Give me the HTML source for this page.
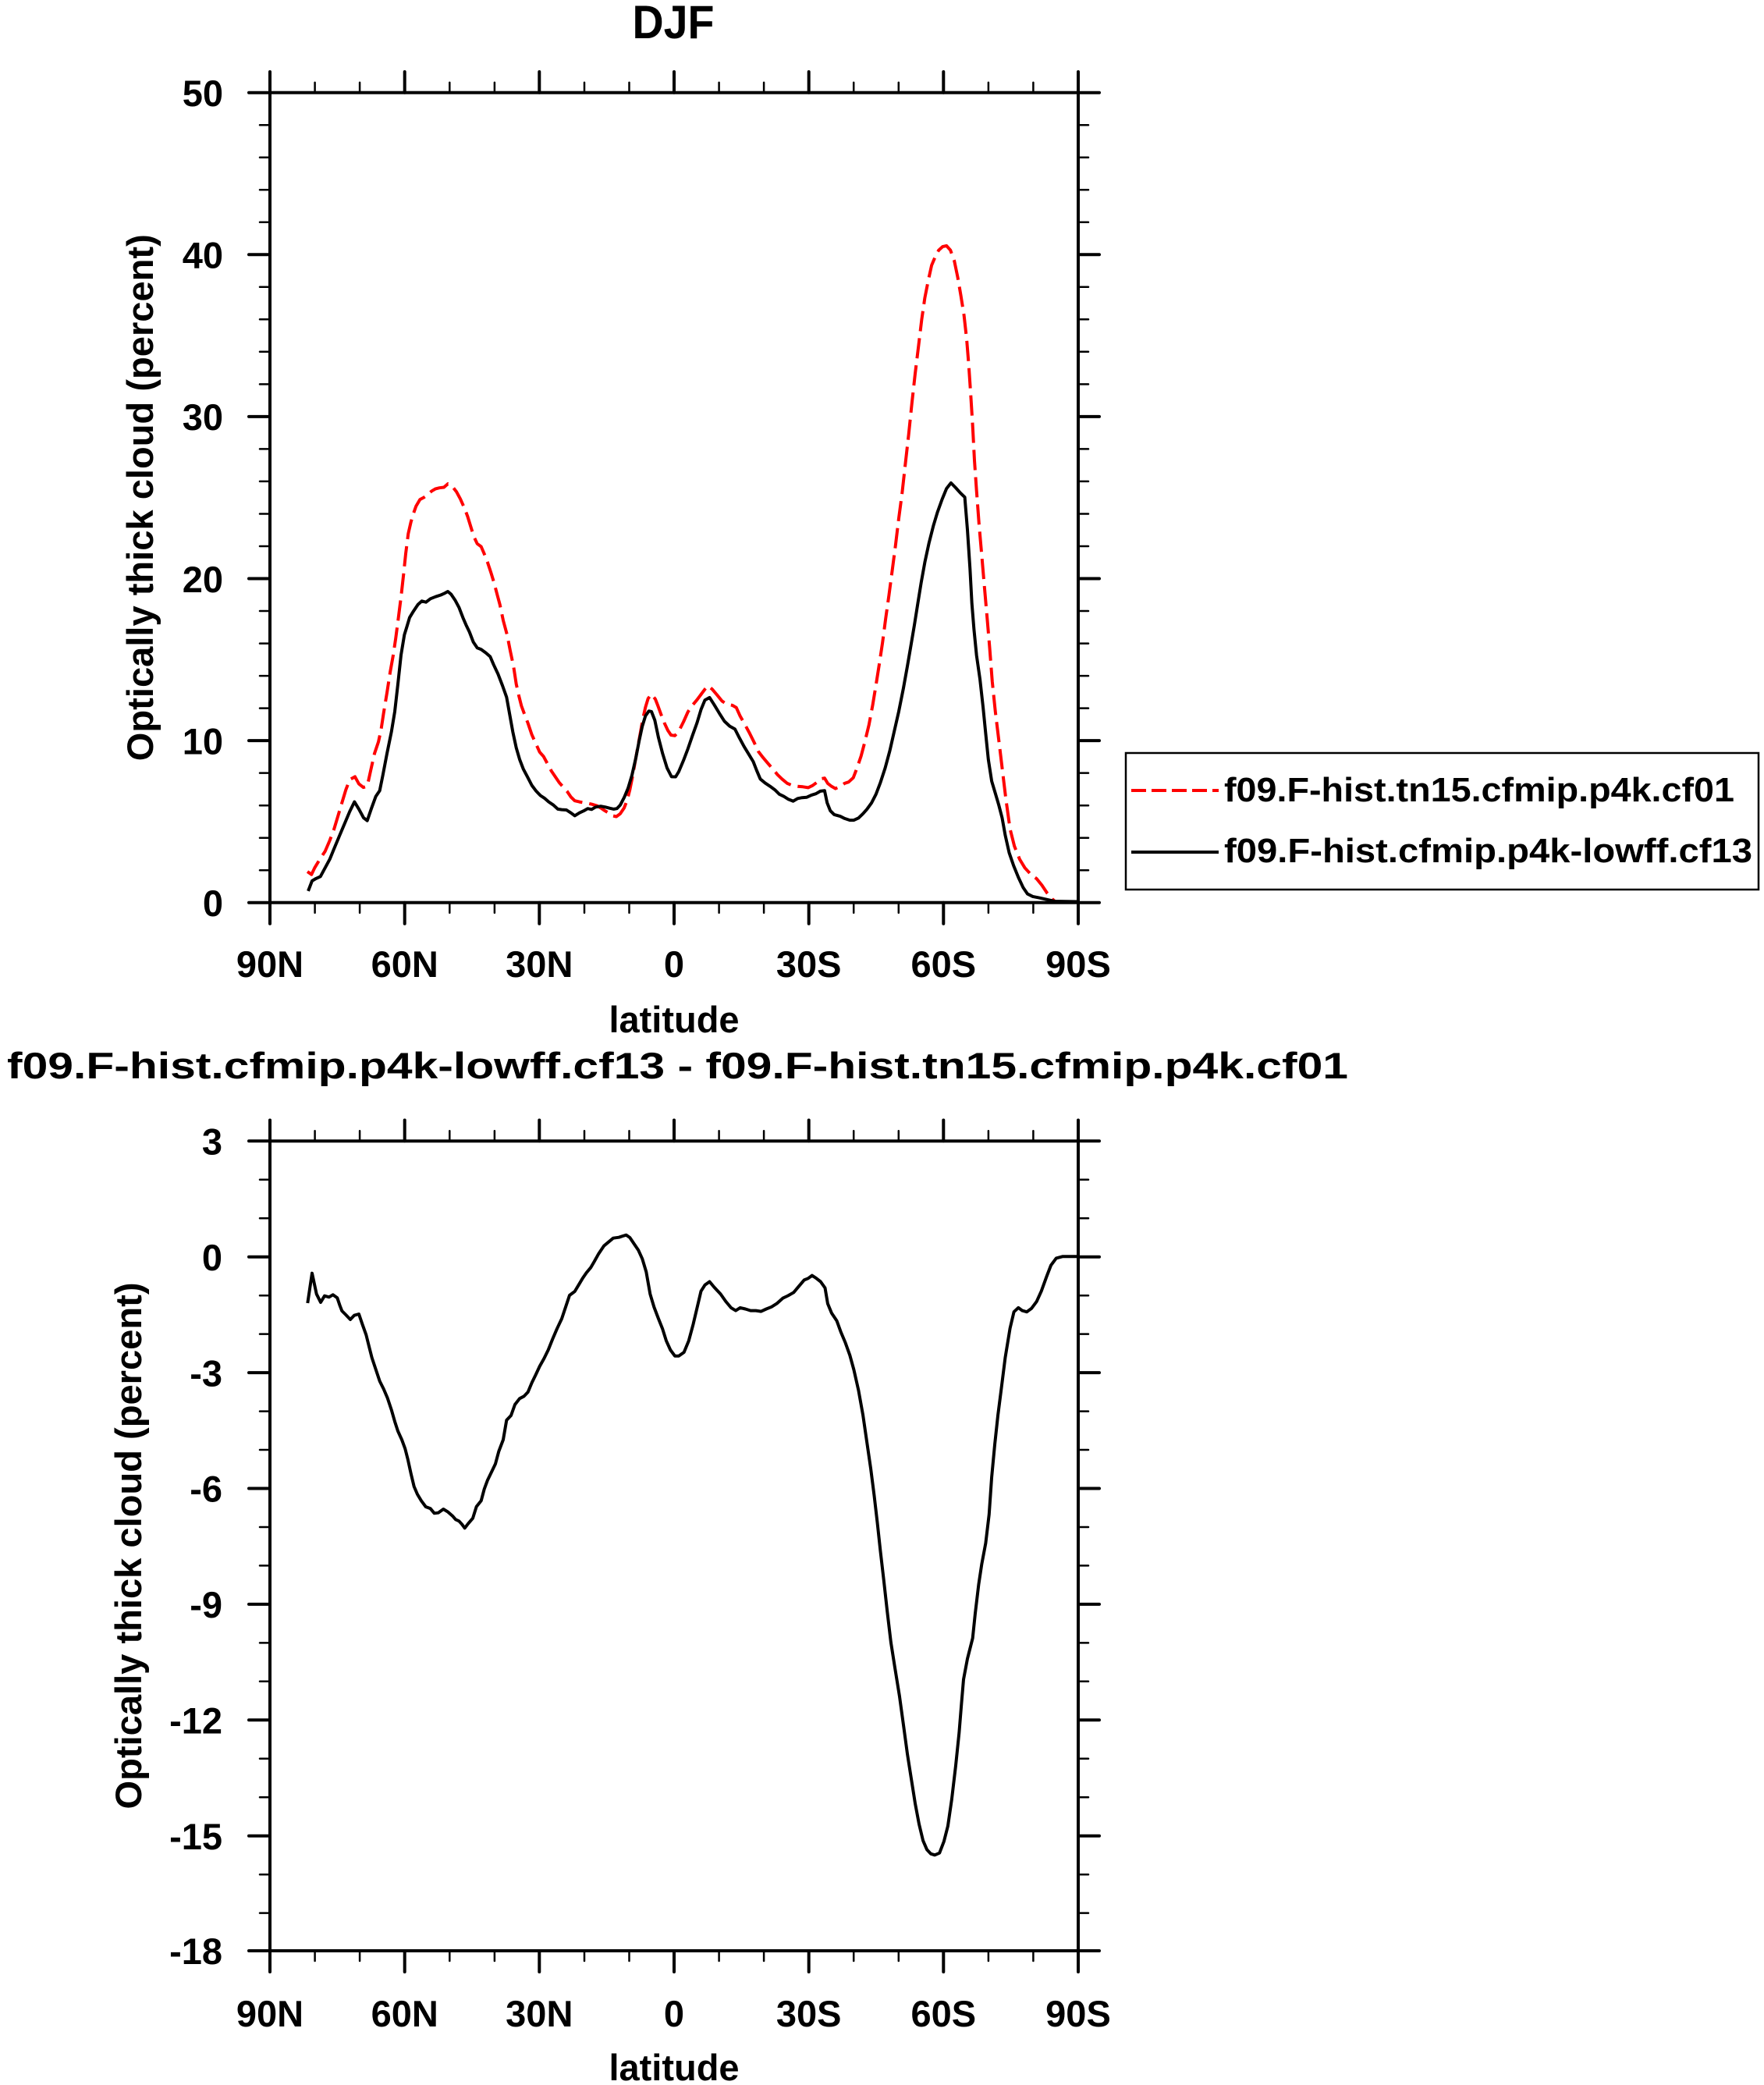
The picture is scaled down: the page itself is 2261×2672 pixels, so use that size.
<!DOCTYPE html>
<html>
<head>
<meta charset="utf-8">
<style>
html,body{margin:0;padding:0;background:#fff;}
svg{display:block;}
text{font-family:"Liberation Sans",Arial,Helvetica,sans-serif;font-weight:bold;fill:#000;}
</style>
</head>
<body>
<svg xmlns="http://www.w3.org/2000/svg" width="2261" height="2672" viewBox="0 0 2261 2672">
<rect x="0" y="0" width="2261" height="2672" fill="#fff"/>

<!-- ===== TOP PLOT ===== -->
<text x="863" y="49" font-size="60" text-anchor="middle" textLength="105" lengthAdjust="spacingAndGlyphs">DJF</text>

<!-- minor ticks top plot -->
<g stroke="#000" stroke-width="2.5" stroke-linecap="round" fill="none">
<path d="M346,160.2H333M346,201.7H333M346,243.2H333M346,284.8H333
M346,367.8H333M346,409.3H333M346,450.8H333M346,492.4H333
M346,575.4H333M346,616.9H333M346,658.5H333M346,700H333
M346,783H333M346,824.6H333M346,866.1H333M346,907.6H333
M346,990.6H333M346,1032.2H333M346,1073.7H333M346,1115.2H333"/>
<path d="M1382,160.2H1395M1382,201.7H1395M1382,243.2H1395M1382,284.8H1395
M1382,367.8H1395M1382,409.3H1395M1382,450.8H1395M1382,492.4H1395
M1382,575.4H1395M1382,616.9H1395M1382,658.5H1395M1382,700H1395
M1382,783H1395M1382,824.6H1395M1382,866.1H1395M1382,907.6H1395
M1382,990.6H1395M1382,1032.2H1395M1382,1073.7H1395M1382,1115.2H1395"/>
<path d="M403.6,118.7V105.7M461.1,118.7V105.7M576.3,118.7V105.7M633.9,118.7V105.7M749,118.7V105.7M806.5,118.7V105.7M921.6,118.7V105.7M979.1,118.7V105.7M1094.2,118.7V105.7M1151.8,118.7V105.7M1266.9,118.7V105.7M1324.4,118.7V105.7"/>
<path d="M403.6,1156.7V1169.7M461.1,1156.7V1169.7M576.3,1156.7V1169.7M633.9,1156.7V1169.7M749,1156.7V1169.7M806.5,1156.7V1169.7M921.6,1156.7V1169.7M979.1,1156.7V1169.7M1094.2,1156.7V1169.7M1151.8,1156.7V1169.7M1266.9,1156.7V1169.7M1324.4,1156.7V1169.7"/>
</g>
<!-- major ticks top plot -->
<g stroke="#000" stroke-width="4" stroke-linecap="round" fill="none">
<path d="M346,118.7H319M346,326.3H319M346,533.9H319M346,741.5H319M346,949.1H319M346,1156.7H319"/>
<path d="M1382,118.7H1409M1382,326.3H1409M1382,533.9H1409M1382,741.5H1409M1382,949.1H1409M1382,1156.7H1409"/>
<path d="M346,118.7V92M518.7,118.7V92M691.3,118.7V92M864,118.7V92M1036.7,118.7V92M1209.3,118.7V92M1382,118.7V92"/>
<path d="M346,1156.7V1183.7M518.7,1156.7V1183.7M691.3,1156.7V1183.7M864,1156.7V1183.7M1036.7,1156.7V1183.7M1209.3,1156.7V1183.7M1382,1156.7V1183.7"/>
<rect x="346" y="118.7" width="1036" height="1038" />
</g>

<!-- y tick labels top -->
<g font-size="47" text-anchor="end">
<text x="286" y="136">50</text>
<text x="286" y="343.6">40</text>
<text x="286" y="551.2">30</text>
<text x="286" y="758.8">20</text>
<text x="286" y="966.4">10</text>
<text x="286" y="1174">0</text>
</g>
<!-- x tick labels top -->
<g font-size="47" text-anchor="middle">
<text x="346" y="1252">90N</text>
<text x="518.7" y="1252">60N</text>
<text x="691.3" y="1252">30N</text>
<text x="864" y="1252">0</text>
<text x="1036.7" y="1252">30S</text>
<text x="1209.3" y="1252">60S</text>
<text x="1382" y="1252">90S</text>
</g>
<text x="864" y="1323" font-size="47" text-anchor="middle">latitude</text>
<text transform="translate(196,637.7) rotate(-90)" font-size="47" text-anchor="middle" textLength="675" lengthAdjust="spacingAndGlyphs">Optically thick cloud (percent)</text>

<!-- red dashed curve -->
<polyline fill="none" stroke="#ff0000" stroke-width="4" stroke-dasharray="26 9" stroke-linejoin="round" points="
394,1117 399.3,1120.7 403.3,1112.2 410,1101.1 416.7,1091 422.7,1077 428.3,1062.1 433.3,1045.4 438.3,1028.7 443.3,1012.1 448.3,999.1 455,995.4 460,1004.6 465.7,1009.1 470.7,1007.6 475,988 480,965.7 485,950.9 488.3,936 491.7,913.8 496,887.8 500,861.9 504,839.6 507.3,817.4 510.7,791.4 514,765.4 517.3,735.8 520,709.8 523.3,683.8 526.7,669 530,657.9 533.3,648.6 538.3,640.1 543.3,637.5 548.3,633.8 553.3,629.3 558.3,626.4 563.3,625.2 569,624.5 574,620.1 580,623.8 585,630.1 590,639.3 595,650.5 599.3,661.6 603.3,674.6 607.3,687.5 611.7,696.8 616.7,700.5 620.7,709.8 625,720.9 629.3,733.9 633.3,746.9 636.7,759.9 640.7,774.7 645,795.1 650,813.6 654,834 658.3,854.4 661.7,876.7 665,891.5 668.3,904.5 671.7,913.8 676.7,926.8 681.7,941.6 686.7,952.7 691.7,963.8 696.7,969.4 701.7,978.7 706.7,988 711.7,995.4 716.7,1002.8 721.7,1008.4 726.7,1013.9 731.7,1021.3 736.7,1026.2 742.7,1027.6 748.3,1028.7 753.3,1029.5 758.3,1030.6 765,1032.5 770,1035.4 775,1038.8 780,1041.7 785,1045.4 790,1046.5 795,1042.8 800,1035.4 804,1025 807.3,1012.1 810.7,995.4 814,976.8 817.3,958.3 820.7,939.7 824,921.2 827.3,906.4 830.7,895.2 835,889.7 840,896 843.3,904.5 847.3,915.6 851.7,926.8 856,936 860,942 865,942.8 870,937.2 876.1,925 881.8,912.2 887.5,903.9 893.5,896.7 898.5,890 903.5,883.3 907.5,878.9 912.9,883.3 918.6,890 925.3,898.3 932,902.8 938.7,903.9 943.7,906.7 948.7,917.8 954.4,927.8 960.4,938.9 966.5,951.1 972.2,963.3 977.8,970.6 983.9,977.8 990.6,985.6 996.6,992.8 1002.3,998.3 1009,1003.9 1015.7,1006.7 1022.4,1007.8 1029.1,1008.3 1035.8,1009.4 1041.5,1006.7 1046.8,1002.8 1051.5,998.3 1056.9,997.2 1060.9,1003.9 1065.9,1007.8 1070.9,1010.6 1076.9,1007.8 1082.6,1003.9 1087.7,1002.2 1093.7,996.7 1098.4,984.4 1103.7,968.9 1108.4,951.1 1113.8,928.9 1118.5,903.9 1122.8,877.8 1127.2,850 1131.2,823.3 1135.2,792.8 1139.5,762.2 1143.9,728.9 1147.9,698.3 1151.9,665 1156.3,631.7 1160.3,595.6 1164.7,556.7 1168.7,517.8 1173,478.9 1177.4,442.8 1181.4,409.4 1185.4,381.7 1189.8,359.4 1194.1,340 1198.8,328.9 1203.2,320.6 1208.2,316.1 1213.2,315 1218.2,320.6 1223.2,334.4 1227.6,355.6 1231.6,378.9 1235.6,403.9 1239,434.4 1241.7,467.8 1244.3,506.7 1246.7,545.6 1249,590 1251.7,628.9 1255,673.3 1258.4,712.2 1261.7,751.1 1265.1,790 1268.4,828.9 1271.8,873.3 1275.8,912.2 1281.2,956.7 1285.2,990 1289.2,1023.3 1294.6,1062.2 1300.2,1084.4 1306.9,1101.1 1313.6,1112.2 1321.3,1120.6 1328.7,1126.1 1335.4,1134.4 1342.1,1144.4 1348.8,1152.2 1352.1,1155"/>

<!-- black solid curve -->
<polyline fill="none" stroke="#000" stroke-width="4" stroke-linejoin="round" points="
395,1141.9 400,1128.9 405,1125.9 410.7,1123.3 416.7,1112.2 422.7,1101.1 428.3,1087.4 435,1071.4 441.7,1055.5 448.3,1039.9 454.3,1027.6 460,1036.9 466,1048 470.7,1051.7 476,1036.2 481.7,1020.6 486.7,1013.2 490.7,993.5 496,965.7 501.7,937.9 506,911.9 510,876.7 514,839.6 518.3,813.6 521.7,802.5 525,791.4 530,783.2 535.7,774.7 540.7,770.3 546,771.7 551.7,767.3 558.3,764.7 565,762.5 569.3,760.6 574,758 578.3,761.7 583.3,769.1 588.3,778.4 593.3,791.4 597.3,800.7 601.7,809.9 606.7,822.9 611.7,830.3 616.7,832.2 622.7,836.6 628.3,841.5 632.7,851.8 638.3,863.7 644,878.5 649.3,893.4 653.3,915.6 657.3,937.9 661.7,958.3 666,973.1 670.7,985.4 676,995.4 681.7,1006.5 687.3,1013.9 692.7,1019.5 698.3,1023.2 703.3,1027.6 709.3,1031.7 715,1036.9 720,1037.6 726,1038 731.7,1041.7 736.7,1045.4 742.7,1041.7 748.3,1039.1 753.3,1036.2 758.3,1037.3 763.3,1034.3 770,1033.2 776,1034.3 781.7,1035.8 786.7,1036.9 790.7,1036.2 795,1031.7 800,1022.1 805,1010.2 810,993.5 815,971.3 819.3,949 823.3,930.5 827.3,917.5 831.7,911.2 835,911.9 839.3,923 844,945.3 849.3,965.7 855,984.2 860.7,995.4 866,995.5 870,988.9 876.1,974.4 881.8,959.4 887.5,942.8 893.5,926.1 898.5,909.4 903.5,897.2 909.5,893.9 915.2,902.8 921.9,913.9 928.6,924.4 935.3,930.6 942,934.4 947.7,945.6 953.7,956.7 959.8,966.7 965.5,976.1 969.8,987.2 974.5,998.3 980.5,1003.3 987.2,1007.8 993.2,1012.2 998.9,1017.8 1004.6,1020.6 1010.7,1024.4 1016.7,1026.7 1022.4,1023.3 1028.1,1022.2 1034.1,1021.7 1040.1,1018.9 1045.8,1017.2 1051.5,1013.9 1056.9,1013.3 1060.2,1028.9 1064.2,1038.9 1069.2,1043.9 1076.9,1046.1 1082.6,1048.9 1089.3,1051.1 1094.4,1051.1 1100.4,1048.3 1106.1,1042.8 1111.1,1037.2 1117.1,1028.9 1122.8,1017.8 1128.5,1002.8 1134.5,984.4 1140.5,962.2 1146.2,937.2 1151.9,912.2 1158,881.7 1163,853.9 1167.3,828.9 1172,801.1 1176.4,773.3 1180.7,746.7 1185.4,720.6 1190.8,695.6 1196.5,673.3 1201.5,656.7 1207.5,640 1213.2,626.1 1218.9,618.9 1224.9,625 1230.9,631.7 1236.6,637.2 1240,678.9 1243.3,728.9 1245.7,773.3 1248.4,806.7 1251.7,840 1256.1,870.6 1260.1,906.7 1263.4,940 1266.8,973.3 1271.1,1001.1 1276.1,1017.8 1280.2,1031.7 1284.5,1048.3 1288.5,1070.6 1293.5,1092.8 1299.2,1109.4 1305.3,1124.4 1311.3,1137.2 1317,1145.6 1323.7,1148.9 1332,1150.6 1342.1,1152.8 1351.5,1155 1382,1155.5"/>

<!-- legend -->
<rect x="1443" y="965" width="811" height="175" fill="none" stroke="#000" stroke-width="2.5"/>
<line x1="1450" y1="1013" x2="1562" y2="1013" stroke="#ff0000" stroke-width="4" stroke-dasharray="19 7"/>
<line x1="1450" y1="1092" x2="1562" y2="1092" stroke="#000" stroke-width="4"/>
<text x="1569" y="1027" font-size="44" textLength="654" lengthAdjust="spacingAndGlyphs">f09.F-hist.tn15.cfmip.p4k.cf01</text>
<text x="1569" y="1105" font-size="44" textLength="677" lengthAdjust="spacingAndGlyphs">f09.F-hist.cfmip.p4k-lowff.cf13</text>

<!-- ===== BOTTOM PLOT ===== -->
<text x="9" y="1382" font-size="47" textLength="1719" lengthAdjust="spacingAndGlyphs">f09.F-hist.cfmip.p4k-lowff.cf13 - f09.F-hist.tn15.cfmip.p4k.cf01</text>

<g stroke="#000" stroke-width="2.5" stroke-linecap="round" fill="none">
<path d="M346,1511.8H333M346,1561.2H333M346,1660.2H333M346,1709.6H333M346,1808.6H333M346,1858H333M346,1957H333M346,2006.4H333M346,2105.4H333M346,2154.8H333M346,2253.8H333M346,2303.2H333M346,2402.2H333M346,2451.6H333"/>
<path d="M1382,1511.8H1395M1382,1561.2H1395M1382,1660.2H1395M1382,1709.6H1395M1382,1808.6H1395M1382,1858H1395M1382,1957H1395M1382,2006.4H1395M1382,2105.4H1395M1382,2154.8H1395M1382,2253.8H1395M1382,2303.2H1395M1382,2402.2H1395M1382,2451.6H1395"/>
<path d="M403.6,1462.3V1449.3M461.1,1462.3V1449.3M576.3,1462.3V1449.3M633.9,1462.3V1449.3M749,1462.3V1449.3M806.5,1462.3V1449.3M921.6,1462.3V1449.3M979.1,1462.3V1449.3M1094.2,1462.3V1449.3M1151.8,1462.3V1449.3M1266.9,1462.3V1449.3M1324.4,1462.3V1449.3"/>
<path d="M403.6,2500V2513M461.1,2500V2513M576.3,2500V2513M633.9,2500V2513M749,2500V2513M806.5,2500V2513M921.6,2500V2513M979.1,2500V2513M1094.2,2500V2513M1151.8,2500V2513M1266.9,2500V2513M1324.4,2500V2513"/>
</g>
<g stroke="#000" stroke-width="4" stroke-linecap="round" fill="none">
<path d="M346,1462.3H319M346,1610.7H319M346,1759.1H319M346,1907.5H319M346,2055.9H319M346,2204.3H319M346,2352.7H319M346,2500H319"/>
<path d="M1382,1462.3H1409M1382,1610.7H1409M1382,1759.1H1409M1382,1907.5H1409M1382,2055.9H1409M1382,2204.3H1409M1382,2352.7H1409M1382,2500H1409"/>
<path d="M346,1462.3V1435.5M518.7,1462.3V1435.5M691.3,1462.3V1435.5M864,1462.3V1435.5M1036.7,1462.3V1435.5M1209.3,1462.3V1435.5M1382,1462.3V1435.5"/>
<path d="M346,2500V2527M518.7,2500V2527M691.3,2500V2527M864,2500V2527M1036.7,2500V2527M1209.3,2500V2527M1382,2500V2527"/>
<rect x="346" y="1462.3" width="1036" height="1037.7"/>
</g>

<g font-size="47" text-anchor="end">
<text x="285" y="1479.5">3</text>
<text x="285" y="1627.9">0</text>
<text x="285" y="1776.3">-3</text>
<text x="285" y="1924.7">-6</text>
<text x="285" y="2073.1">-9</text>
<text x="285" y="2221.5">-12</text>
<text x="285" y="2369.9">-15</text>
<text x="285" y="2517.2">-18</text>
</g>
<g font-size="47" text-anchor="middle">
<text x="346" y="2597">90N</text>
<text x="518.7" y="2597">60N</text>
<text x="691.3" y="2597">30N</text>
<text x="864" y="2597">0</text>
<text x="1036.7" y="2597">30S</text>
<text x="1209.3" y="2597">60S</text>
<text x="1382" y="2597">90S</text>
</g>
<text x="864" y="2666" font-size="47" text-anchor="middle">latitude</text>
<text transform="translate(181,1981) rotate(-90)" font-size="47" text-anchor="middle" textLength="675" lengthAdjust="spacingAndGlyphs">Optically thick cloud (percent)</text>

<polyline fill="none" stroke="#000" stroke-width="4" stroke-linejoin="round" points="
394.3,1670 400,1631.7 405.7,1658.3 411,1669 416,1660.7 421.7,1662.3 426.7,1659.3 432.3,1663.3 435.7,1673.3 438.3,1680 443.3,1685 449,1691 454,1685.7 460,1684 464.3,1696.7 469.3,1710.7 473.3,1726.7 476.7,1740 481.7,1755 486.7,1770 491.7,1780 496.7,1791.7 501.7,1806.7 506,1821.7 510,1834 515,1845 519.3,1856.7 522.7,1870 526.7,1888.3 530.7,1905 535,1915 540,1923.3 545.7,1931 551.7,1933.3 556.7,1939.3 561.7,1938.7 568.3,1934 574.3,1937.7 580,1942.7 584,1947.3 588.3,1949.3 592,1953.3 595.7,1958.3 600,1952.7 606,1945.7 610.7,1930.7 616.7,1923.3 620.7,1908.3 625,1896.7 630.7,1885 635,1876 639.3,1860 645,1845 649.3,1820 655,1814 660,1800 666,1792.3 671.7,1789.3 676.7,1784 681.7,1772 686.7,1761.7 691.7,1751 697.3,1741 702.7,1730 708.3,1716 714,1702.7 720,1690 725,1675 730,1660 736.7,1655 741.7,1646.7 746.7,1638.3 751.7,1631 757.3,1624.3 761.7,1616.7 767.3,1606.7 774,1596.7 780,1591.7 786,1586.7 793.3,1585.7 798.3,1584 802.7,1582.7 807.3,1586 812.7,1594 818.3,1602.3 823.3,1613.3 828.3,1630 833.3,1658.3 838.3,1675 844,1690 849.3,1703.3 854,1718.3 859.3,1730 865,1737.7 870,1737.7 876.7,1733 882.8,1718.2 888.5,1697.1 893.5,1675.9 898.5,1654.7 903.5,1646.8 909.5,1642.5 915.2,1649.4 923.6,1658.4 930.3,1667.9 937,1675.9 943,1679.6 948.7,1675.9 955.4,1677.5 962.1,1679.6 968.8,1679.6 975.5,1680.6 982.2,1677.5 988.9,1674.8 995.6,1670.6 1003.3,1663.7 1010,1660.5 1017.3,1656.3 1024,1648.3 1030.7,1640.4 1035.8,1638.3 1040.8,1634.6 1045.8,1637.8 1051.8,1642.5 1057.5,1650.5 1060.9,1670.6 1065.9,1682.8 1072.6,1692.8 1077.6,1706.6 1083.6,1720.9 1089.3,1736.8 1094.4,1755.3 1100.4,1781.8 1106.1,1813.5 1111.1,1847.9 1116.1,1882.3 1120.5,1916.7 1124.5,1951.2 1128.5,1988.2 1132.8,2025.3 1137.2,2065 1141.9,2104.7 1146.9,2136.4 1152.9,2173.5 1158,2210.6 1163,2247.6 1168,2279.4 1173,2311.1 1178,2337.6 1183.1,2358.8 1188.1,2370.4 1193.1,2375.7 1198.1,2377.3 1204.2,2374.7 1209.9,2359.8 1214.9,2340.3 1219.9,2305.8 1224.9,2263.5 1229.3,2221.1 1232.3,2184.1 1235,2152.3 1240,2125.8 1246.7,2099.4 1250,2067.6 1254.4,2030.6 1258.4,2004.1 1263.4,1977.6 1267.8,1940.6 1271.1,1892.9 1275.1,1850.6 1279.1,1813.5 1283.5,1779.1 1288.5,1739.4 1294.6,1702.3 1299.6,1681.2 1305.3,1675.9 1310.3,1679.6 1316,1681.2 1322,1676.9 1328.7,1667.9 1334.7,1654.7 1341.4,1636.2 1347.1,1621.4 1353.8,1612.4 1362.2,1610.2 1382,1610.2"/>
</svg>
</body>
</html>
